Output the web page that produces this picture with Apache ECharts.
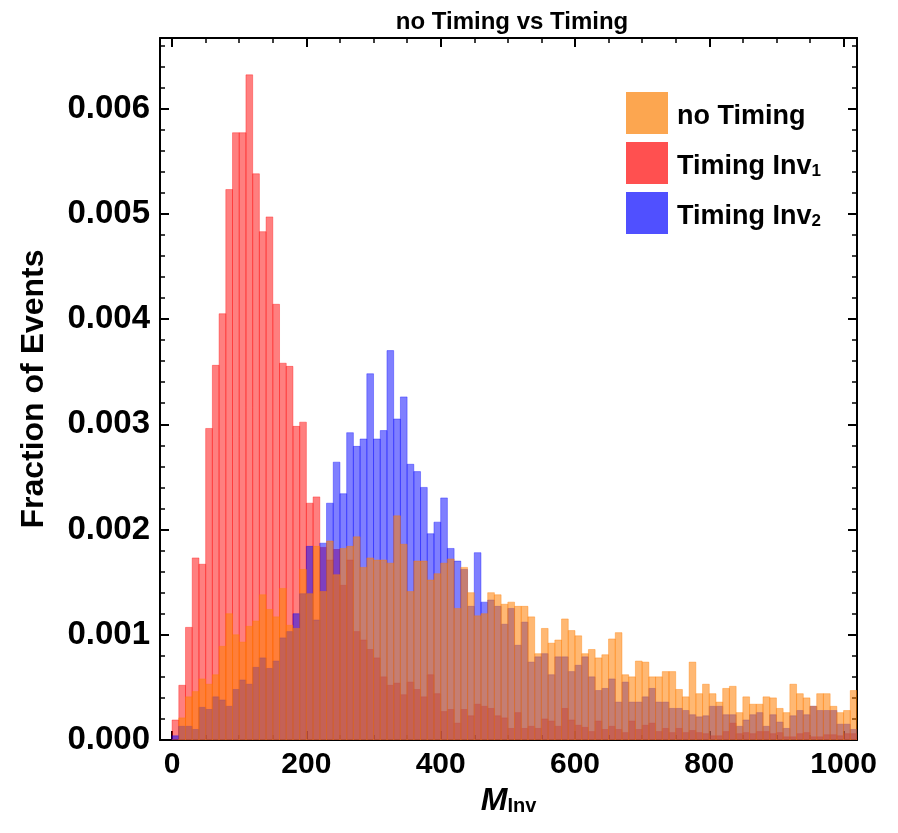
<!DOCTYPE html>
<html>
<head>
<meta charset="utf-8">
<title>no Timing vs Timing</title>
<script src="https://cdn.jsdelivr.net/npm/echarts@6/dist/echarts.min.js"></script>
<style>
  html, body { margin: 0; padding: 0; background: #fff; }
  #chart { width: 898px; height: 833px; }
</style>
</head>
<body>
<div id="chart"></div>
<script>
// histogram bins: 10 GeV wide, starting at 0
const BIN_WIDTH = 10;
const bins = Array.from({ length: 102 }, (_, i) => i * BIN_WIDTH);

const noTiming = [
  0, 0.00021, 0.00041, 0.00046, 0.00058, 0.00053, 0.00062, 0.00089, 0.00120, 0.00100,
  0.00093, 0.00108, 0.00113, 0.00138, 0.00124, 0.00117, 0.00144, 0.00109, 0.00106, 0.00162,
  0.00139, 0.00184, 0.00141, 0.00189, 0.00157, 0.00182, 0.00184, 0.00193, 0.00164, 0.00173,
  0.00171, 0.00171, 0.00168, 0.00213, 0.00186, 0.00141, 0.00170, 0.00170, 0.00152, 0.00158,
  0.00168, 0.00172, 0.00125, 0.00164, 0.00140, 0.00118, 0.00120, 0.00140, 0.00138, 0.00129,
  0.00131, 0.00127, 0.00127, 0.00117, 0.00082, 0.00106, 0.00092, 0.00095, 0.00115, 0.00104,
  0.00099, 0.00082, 0.00086, 0.00078, 0.00081, 0.00096, 0.00102, 0.00062, 0.00060, 0.00075,
  0.00074, 0.00060, 0.00060, 0.00065, 0.00065, 0.00048, 0.00041, 0.00074, 0.00044, 0.00053,
  0.00044, 0.00036, 0.00049, 0.00051, 0.00026, 0.00041, 0.00034, 0.00034, 0.00041, 0.00040,
  0.00030, 0.00026, 0.00053, 0.00044, 0.00040, 0.00032, 0.00044, 0.00044, 0.00032, 0.00026,
  0.00028, 0.00047
];

const timingInv1 = [
  0.00019, 0.00052, 0.00107, 0.00173, 0.00167, 0.00296, 0.00356, 0.00405, 0.00523, 0.00577,
  0.00577, 0.00632, 0.00538, 0.00483, 0.00497, 0.00414, 0.00358, 0.00355, 0.00298, 0.00302,
  0.00225, 0.00231, 0.00183, 0.00171, 0.00181, 0.00147, 0.00171, 0.00103, 0.00095, 0.00086,
  0.00078, 0.00060, 0.00052, 0.00054, 0.00043, 0.00055, 0.00048, 0.00041, 0.00062, 0.00044,
  0.00027, 0.00029, 0.00016, 0.00029, 0.00023, 0.00034, 0.00032, 0.00030, 0.00023, 0.00021,
  0.00011, 0.00026, 0.00011, 0.00013, 0.00011, 0.00020, 0.00018, 0.00013, 0.00030, 0.00019,
  0.00014, 0.00012, 0.00008, 0.00018, 0.00010, 0.00013, 0.00010, 0.00007, 0.00018, 0.00010,
  0.00014, 0.00016, 0.00008, 0.00011, 0.00007, 0.00011, 0.00007, 0.00009, 0.00007, 0.00006,
  0.00004, 0.00004, 0.00008, 0.00016, 0.00006, 0.00007, 0.00006, 0.00008, 0.00008, 0.00006,
  0.00007, 0.00003, 0.00003, 0.00006, 0.00007, 0.00003, 0.00003, 0.00005, 0.00005, 0.00004,
  0.00006, 0.00006
];

const timingInv2 = [
  0.00004, 0.00013, 0.00013, 0.00010, 0.00031, 0.00029, 0.00041, 0.00038, 0.00032, 0.00048,
  0.00057, 0.00053, 0.00069, 0.00078, 0.00068, 0.00075, 0.00097, 0.00103, 0.00120, 0.00139,
  0.00184, 0.00114, 0.00187, 0.00225, 0.00264, 0.00234, 0.00292, 0.00279, 0.00286, 0.00348,
  0.00286, 0.00294, 0.00370, 0.00305, 0.00326, 0.00262, 0.00255, 0.00240, 0.00196, 0.00207,
  0.00230, 0.00182, 0.00170, 0.00162, 0.00127, 0.00178, 0.00131, 0.00133, 0.00127, 0.00110,
  0.00125, 0.00090, 0.00112, 0.00074, 0.00079, 0.00082, 0.00062, 0.00079, 0.00079, 0.00065,
  0.00071, 0.00079, 0.00060, 0.00047, 0.00049, 0.00058, 0.00036, 0.00055, 0.00036, 0.00036,
  0.00041, 0.00049, 0.00036, 0.00036, 0.00030, 0.00030, 0.00028, 0.00024, 0.00022, 0.00023,
  0.00032, 0.00032, 0.00024, 0.00024, 0.00013, 0.00019, 0.00024, 0.00026, 0.00013, 0.00024,
  0.00017, 0.00011, 0.00023, 0.00028, 0.00024, 0.00032, 0.00028, 0.00028, 0.00028, 0.00015,
  0.00015, 0.00010
];

const xMajorTicks = [0, 200, 400, 600, 800, 1000];
const xMinorTicks = Array.from({ length: 21 }, (_, i) => i * 50);
const yMajorTicks = [0, 0.001, 0.002, 0.003, 0.004, 0.005, 0.006];
const yMinorTicks = Array.from({ length: 34 }, (_, i) => +(i * 0.0002).toFixed(4));

const X_MIN = -18, X_MAX = 1020;
const Y_MIN = 0, Y_MAX = 0.00667;
const FONT = 'Liberation Sans, Arial, sans-serif';

const chart = echarts.init(document.getElementById('chart'));

function toBins(values) {
  return bins.map((b, i) => [b, b + BIN_WIDTH, values[i]]);
}

function binRenderer(fill) {
  return function (params, api) {
    const top = api.coord([api.value(0), api.value(2)]);
    const bottom = api.coord([api.value(1), 0]);
    return {
      type: 'rect',
      shape: { x: top[0], y: top[1], width: bottom[0] - top[0], height: bottom[1] - top[1] },
      style: { fill: fill, stroke: fill, lineWidth: 0.7 }
    };
  };
}

// frame axes: grid 0 carries labels + major ticks, grid 1 the minor ticks
function xAxisOf(grid, pos, ticks, len, main) {
  return {
    type: 'value', gridIndex: grid, position: pos, min: X_MIN, max: X_MAX,
    axisLine: { show: main, onZero: false, lineStyle: { color: '#000', width: 2 } },
    splitLine: { show: false },
    axisTick: { show: true, inside: true, length: len, customValues: ticks,
      lineStyle: { color: '#000', width: main ? 2 : 1.5 } },
    axisLabel: { show: main && pos === 'bottom', customValues: xMajorTicks,
      formatter: v => String(v),
      fontSize: 30, fontWeight: 'bold', color: '#000', fontFamily: FONT, margin: 10 }
  };
}
function yAxisOf(grid, pos, ticks, len, main) {
  return {
    type: 'value', gridIndex: grid, position: pos, min: Y_MIN, max: Y_MAX,
    axisLine: { show: main, onZero: false, lineStyle: { color: '#000', width: 2 } },
    splitLine: { show: false },
    axisTick: { show: true, inside: true, length: len, customValues: ticks,
      lineStyle: { color: '#000', width: main ? 2 : 1.5 } },
    axisLabel: { show: main && pos === 'left', customValues: yMajorTicks,
      formatter: v => v.toFixed(3),
      fontSize: 33, fontWeight: 'bold', color: '#000', fontFamily: FONT, margin: 10 }
  };
}

const xBottom = xAxisOf(0, 'bottom', xMajorTicks, 9, true);
xBottom.name = '{m|M}{s|Inv}';
xBottom.nameLocation = 'middle';
xBottom.nameGap = 38;
xBottom.nameTextStyle = {
  rich: {
    m: { fontSize: 32, fontStyle: 'italic', fontWeight: 'bold', fontFamily: FONT, color: '#000', lineHeight: 38, verticalAlign: 'bottom' },
    s: { fontSize: 20, fontWeight: 'bold', fontFamily: FONT, color: '#000', lineHeight: 16, verticalAlign: 'bottom' }
  }
};

const yLeft = yAxisOf(0, 'left', yMajorTicks, 9, true);
yLeft.name = 'Fraction of Events';
yLeft.nameLocation = 'middle';
yLeft.nameGap = 110;
yLeft.nameTextStyle = { fontSize: 32, fontWeight: 'bold', fontFamily: FONT, color: '#000' };

const legendNames = {
  'no Timing': '{t|no Timing}',
  'Timing Inv1': '{t|Timing Inv}{sub|1}',
  'Timing Inv2': '{t|Timing Inv}{sub|2}'
};

const option = {
  animation: false,
  backgroundColor: '#fff',
  title: {
    text: 'no Timing vs Timing',
    left: 507, top: 5, textAlign: 'center',
    textStyle: { fontSize: 24, fontWeight: 'bold', fontFamily: FONT, color: '#000' }
  },
  legend: {
    orient: 'vertical', left: 626, top: 92, padding: 0,
    itemWidth: 42, itemHeight: 42, itemGap: 8, icon: 'rect',
    data: ['no Timing', 'Timing Inv1', 'Timing Inv2'],
    formatter: name => legendNames[name],
    textStyle: {
      padding: [0, 0, 0, 4],
      rich: {
        t: { fontSize: 27, fontWeight: 'bold', fontFamily: FONT, color: '#000', lineHeight: 34, verticalAlign: 'bottom' },
        sub: { fontSize: 17, fontWeight: 'bold', fontFamily: FONT, color: '#000', lineHeight: 15, verticalAlign: 'bottom' }
      }
    }
  },
  grid: [
    { left: 160, right: 41, top: 38, bottom: 93 },
    { left: 160, right: 41, top: 38, bottom: 93 }
  ],
  xAxis: [
    xBottom,
    xAxisOf(0, 'top', xMajorTicks, 9, true),
    xAxisOf(1, 'bottom', xMinorTicks, 5, false),
    xAxisOf(1, 'top', xMinorTicks, 5, false)
  ],
  yAxis: [
    yLeft,
    yAxisOf(0, 'right', yMajorTicks, 9, true),
    yAxisOf(1, 'left', yMinorTicks, 5, false),
    yAxisOf(1, 'right', yMinorTicks, 5, false)
  ],
  // drawn red, then blue, then orange so the overlaps mix like the original
  series: [
    {
      name: 'Timing Inv1', type: 'custom', xAxisIndex: 0, yAxisIndex: 0, clip: true,
      itemStyle: { color: '#ff5050' },
      encode: { x: [0, 1], y: 2 },
      renderItem: binRenderer('rgba(255, 0, 0, 0.5)'),
      data: toBins(timingInv1)
    },
    {
      name: 'Timing Inv2', type: 'custom', xAxisIndex: 0, yAxisIndex: 0, clip: true,
      itemStyle: { color: '#5050ff' },
      encode: { x: [0, 1], y: 2 },
      renderItem: binRenderer('rgba(0, 0, 255, 0.5)'),
      data: toBins(timingInv2)
    },
    {
      name: 'no Timing', type: 'custom', xAxisIndex: 0, yAxisIndex: 0, clip: true,
      itemStyle: { color: '#fca650' },
      encode: { x: [0, 1], y: 2 },
      renderItem: binRenderer('rgba(255, 126, 0, 0.55)'),
      data: toBins(noTiming)
    }
  ]
};

chart.setOption(option);
</script>
</body>
</html>
